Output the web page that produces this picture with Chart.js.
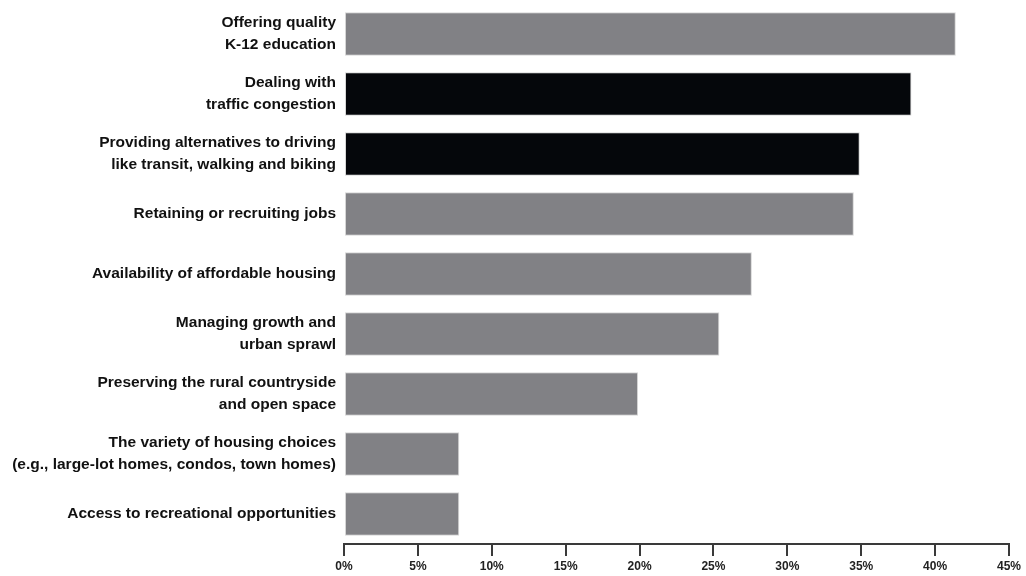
<!DOCTYPE html>
<html>
<head>
<meta charset="utf-8">
<script src="https://cdn.jsdelivr.net/npm/chart.js@4/dist/chart.umd.min.js"></script>
<style>
  html, body { margin: 0; padding: 0; background: #fff; }
  #wrap { width: 1026px; height: 576px; }
</style>
</head>
<body>
<div id="wrap"><canvas id="prioChart"></canvas></div>
<script>
const categories = [
    ["Offering quality", "K-12 education"],
    ["Dealing with", "traffic congestion"],
    ["Providing alternatives to driving", "like transit, walking and biking"],
    "Retaining or recruiting jobs",
    "Availability of affordable housing",
    ["Managing growth and", "urban sprawl"],
    ["Preserving the rural countryside", "and open space"],
    ["The variety of housing choices", "(e.g., large-lot homes, condos, town homes)"],
    "Access to recreational opportunities",
];
const shares = [41.4, 38.4, 34.9, 34.5, 27.6, 25.4, 19.9, 7.8, 7.8];
const xTicks = [0, 5, 10, 15, 20, 25, 30, 35, 40, 45];

const gray = "#818185";
const black = "#05070b";
const ctx = document.getElementById("prioChart");

new Chart(ctx, {
    type: "bar",
    data: {
        labels: categories,
        datasets: [
            {
                data: shares,
                backgroundColor: (c) => (c.dataIndex === 1 || c.dataIndex === 2) ? black : gray,
                borderColor: "#d6d6d6",
                borderWidth: 1,
                borderSkipped: false,
                categoryPercentage: 1,
                barPercentage: 0.725,
            },
        ],
    },
    options: {
        indexAxis: "y",
        responsive: true,
        maintainAspectRatio: false,
        animation: false,
        layout: {
            padding: { top: 4, right: 17, bottom: 0, left: 0 },
        },
        scales: {
            x: {
                min: 0,
                max: 45,
                afterBuildTicks: (scale) => {
                    scale.ticks = xTicks.map(v => ({ value: v }));
                },
                afterFit: (scale) => { scale.height = 32; },
                grid: {
                    drawOnChartArea: false,
                    drawTicks: true,
                    tickLength: 12,
                    color: "#3a3a3a",
                    lineWidth: 2,
                },
                border: { display: true, color: "#3a3a3a", width: 2 },
                ticks: {
                    padding: 3,
                    color: "#222",
                    font: { family: "'Liberation Sans', Arial, sans-serif", size: 12, weight: "bold" },
                    callback: (v) => v + "%",
                },
            },
            y: {
                afterFit: (scale) => {
                    scale.width = 344;
                    // labels may overhang the plot; don't let them push it down
                    scale.paddingTop = 0;
                    scale.paddingBottom = 0;
                },
                grid: { display: false },
                border: { display: false },
                ticks: {
                    padding: 0,
                    color: "#111",
                    font: { family: "'Liberation Sans', Arial, sans-serif", size: 15.5, weight: "bold", lineHeight: 1.42 },
                },
            },
        },
        plugins: {
            legend: { display: false },
            tooltip: { enabled: false },
        },
    },
});
</script>
</body>
</html>
